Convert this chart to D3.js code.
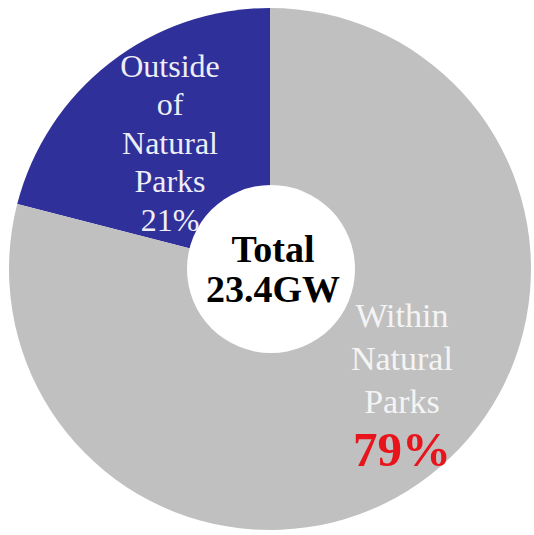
<!DOCTYPE html>
<html>
<head>
<meta charset="utf-8">
<script src="https://cdn.jsdelivr.net/npm/d3@7"></script>
<style>
  html, body { margin: 0; padding: 0; background: #fff; }
  svg text { font-family: "Liberation Serif", "Times New Roman", serif; }
</style>
</head>
<body>
<svg id="chart" width="534" height="535"></svg>
<script>
// data
var categories = ["Outside of Natural Parks", "Within Natural Parks"];
var shares = [21, 79];
var labelLines = [["Outside", "of", "Natural", "Parks"], ["Within", "Natural", "Parks"]];
var pctLabels = ["21%", "79%"];
var totalLabel = ["Total", "23.4GW"];

var width = 534, height = 535;
var cx = 270, cy = 269, radius = 261, holeR = 84;
var colors = ["#30309a", "#c0c0c0"];

var svg = d3.select("#chart");
var g = svg.append("g").attr("transform", "translate(" + cx + "," + cy + ")");

// blue slice ends at 12 o'clock, so start counter-clockwise of it
var start = -2 * Math.PI * shares[0] / d3.sum(shares);
var pie = d3.pie().sort(null).value(function(d) { return d; })
    .startAngle(start).endAngle(start + 2 * Math.PI);
var arcs = pie(shares);

var arc = d3.arc().innerRadius(0).outerRadius(radius);

g.selectAll("path.slice")
    .data(arcs)
    .enter().append("path")
    .attr("class", "slice")
    .attr("d", arc)
    .attr("fill", function(d, i) { return colors[i]; });

// white hole
g.append("circle").attr("cx", 1).attr("r", holeR).attr("fill", "#fff");

// slice labels
var labelArc = [d3.arc().innerRadius(155).outerRadius(155), d3.arc().innerRadius(181).outerRadius(181)];
var labelShift = [[-5, -4], [21, -32]];
var lineGap = [38.5, 43];
var fontSize = [32, 34];
var textColor = ["#eeeef8", "#f4f4f4"];

arcs.forEach(function(a, i) {
  var c = labelArc[i].centroid(a);
  var x = c[0] + labelShift[i][0], y = c[1] + labelShift[i][1];
  var lines = labelLines[i];
  var n = lines.length + 1;
  var top = y - (n - 1) * lineGap[i] / 2;
  var t = g.append("text").attr("text-anchor", "middle");
  lines.forEach(function(l, j) {
    t.append("tspan").attr("x", x).attr("y", top + j * lineGap[i] + 11)
      .attr("font-size", fontSize[i]).attr("fill", textColor[i]).text(l);
  });
  var p = t.append("tspan").attr("x", x).attr("y", top + lines.length * lineGap[i] + 11).text(pctLabels[i]);
  if (i == 0) {
    p.attr("font-size", fontSize[i]).attr("fill", textColor[i]);
  } else {
    p.attr("font-size", 49).attr("font-weight", "bold").attr("fill", "#e8141c").attr("dy", 10);
  }
});

// centre total
var tt = g.append("text").attr("text-anchor", "middle")
    .attr("font-weight", "bold").attr("font-size", 38).attr("fill", "#000");
totalLabel.forEach(function(l, j) {
  tt.append("tspan").attr("x", 3).attr("y", -7 + j * 40).text(l);
});
</script>
</body>
</html>
